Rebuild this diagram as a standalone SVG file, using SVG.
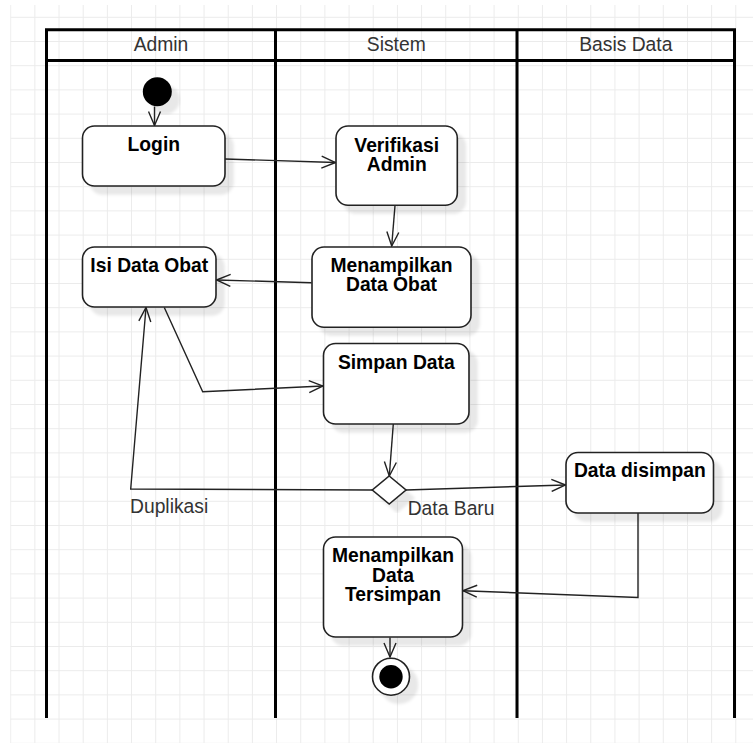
<svg xmlns="http://www.w3.org/2000/svg" width="753" height="743" viewBox="0 0 753 743">
  <style>
    .lane { fill: none; stroke: #000; stroke-width: 3; }
    .hdr { font-family: "Liberation Sans", Arial, sans-serif; font-size: 19.3px; fill: #333; text-anchor: middle; }
    .node { fill: #fff; stroke: #222; stroke-width: 1.6; filter: url(#shadow); }
    .lbl { font-family: "Liberation Sans", Arial, sans-serif; font-size: 19.3px; font-weight: bold; fill: #000; text-anchor: middle; }
    .elbl { font-family: "Liberation Sans", Arial, sans-serif; font-size: 19.3px; fill: #333; }
    .edge { fill: none; stroke: #222; stroke-width: 1.4; marker-end: url(#open); }
  </style>
  <defs>
    <pattern id="grid" x="10.2" y="16.8" width="24.17" height="24.2" patternUnits="userSpaceOnUse">
      <path d="M0.5,0 V24.2 M0,0.5 H24.17" stroke="#ebebeb" stroke-width="1" fill="none"/>
    </pattern>
    <filter id="shadow" x="-20%" y="-20%" width="150%" height="150%">
      <feGaussianBlur in="SourceAlpha" stdDeviation="1.5"/>
      <feOffset dx="8" dy="8" result="b"/>
      <feFlood flood-color="#000" flood-opacity="0.09"/>
      <feComposite in2="b" operator="in"/>
      <feMerge><feMergeNode/><feMergeNode in="SourceGraphic"/></feMerge>
    </filter>
    <marker id="open" viewBox="0 0 16 14" markerWidth="16" markerHeight="14" refX="15" refY="7" orient="auto" markerUnits="userSpaceOnUse">
      <path d="M1,1 L15,7 L1,13" fill="none" stroke="#222" stroke-width="1.4"/>
    </marker>
  </defs>

  <rect x="0" y="0" width="753" height="743" fill="#fff"/>
  <rect x="10.2" y="5" width="743" height="738" fill="url(#grid)"/>

  <g id="swimlanes">
    <path class="lane" d="M46.5,718 V29.7 H734.5 V718"/>
    <path class="lane" d="M46.5,60.5 H734.5"/>
    <path class="lane" d="M275.5,29.7 V718"/>
    <path class="lane" d="M517,29.7 V718"/>
    <text class="hdr" x="161" y="50.5">Admin</text>
    <text class="hdr" x="396.3" y="50.5">Sistem</text>
    <text class="hdr" x="625.8" y="50.5">Basis Data</text>
  </g>

  <g id="connectors">
    <path class="edge" d="M154.5,106.5 L154.5,125.5"/>
    <path class="edge" d="M225,159 L335.5,162.5"/>
    <path class="edge" d="M395,205.5 L391.7,246"/>
    <path class="edge" d="M311.5,282.7 L216.5,280"/>
    <path class="edge" d="M164.3,307.5 L202.7,391.7 L323,386"/>
    <path class="edge" d="M393.3,424 L389.3,476"/>
    <path class="edge" d="M406,490 L565.5,485"/>
    <path class="edge" d="M372.3,490 L130.7,489 L146,307.5"/>
    <path class="edge" d="M638,513 L638,597.5 L463,590.7"/>
    <path class="edge" d="M390,637.5 L390,657"/>
    <text class="elbl" x="130" y="512.7">Duplikasi</text>
    <text class="elbl" x="407.7" y="515">Data Baru</text>
  </g>

  <g id="start">
    <circle cx="157.3" cy="91.7" r="14.5" fill="#000" filter="url(#shadow)"/>
  </g>

  <g id="login">
    <rect class="node" x="82.5" y="126" width="142.5" height="60" rx="12"/>
    <text class="lbl" x="153.8" y="150.7">Login</text>
  </g>

  <g id="verifikasi">
    <rect class="node" x="336" y="126" width="121.3" height="79.3" rx="12"/>
    <text class="lbl" x="396.7" y="151.5">Verifikasi</text>
    <text class="lbl" x="396.7" y="170.5">Admin</text>
  </g>

  <g id="isi-data-obat">
    <rect class="node" x="82.5" y="247" width="133.5" height="60" rx="12"/>
    <text class="lbl" x="149.3" y="271.7">Isi Data Obat</text>
  </g>

  <g id="menampilkan-data-obat">
    <rect class="node" x="312" y="247" width="159" height="80.3" rx="12"/>
    <text class="lbl" x="391.5" y="271.7">Menampilkan</text>
    <text class="lbl" x="391.5" y="291">Data Obat</text>
  </g>

  <g id="simpan-data">
    <rect class="node" x="323.5" y="343.5" width="145.5" height="80.5" rx="12"/>
    <text class="lbl" x="396.3" y="369">Simpan Data</text>
  </g>

  <g id="decision">
    <polygon points="389.2,476 406,490 389.2,504 372.3,490" fill="#fff" stroke="#222" stroke-width="1.6" filter="url(#shadow)"/>
  </g>

  <g id="data-disimpan">
    <rect class="node" x="566" y="452.5" width="147.5" height="60.5" rx="12"/>
    <text class="lbl" x="639.8" y="477.3">Data disimpan</text>
  </g>

  <g id="menampilkan-data-tersimpan">
    <rect class="node" x="323.5" y="537" width="139" height="100" rx="12"/>
    <text class="lbl" x="393" y="562.3">Menampilkan</text>
    <text class="lbl" x="393" y="581.7">Data</text>
    <text class="lbl" x="393" y="601">Tersimpan</text>
  </g>

  <g id="end">
    <circle cx="391" cy="676.7" r="18.5" fill="#fff" stroke="#222" stroke-width="1.6" filter="url(#shadow)"/>
    <circle cx="391" cy="676.7" r="11.7" fill="#000"/>
  </g>
</svg>
